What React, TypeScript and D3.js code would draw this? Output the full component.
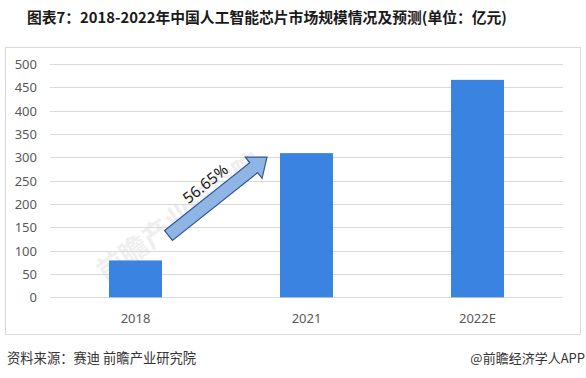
import React from "react";
import * as d3 from "d3";

const categories = ["2018", "2021", "2022E"];
const values = [79, 309, 466];
const yTicks = [0, 50, 100, 150, 200, 250, 300, 350, 400, 450, 500];
const growthLabel = "56.65%";
const title = "图表7：2018-2022年中国人工智能芯片市场规模情况及预测(单位：亿元)";
const sourceText = "资料来源：赛迪 前瞻产业研究院";
const brandText = "@前瞻经济学人APP";

const W = 586;
const H = 378;

export default function App() {
  const x = d3
    .scaleBand<string>()
    .domain(categories)
    .range([50, 563])
    .paddingInner(0.69)
    .paddingOuter(0.345);
  const y = d3.scaleLinear().domain([0, 500]).range([297.3, 64]);
  const bw = x.bandwidth();

  // arrow between first two bars
  const tail: [number, number] = [x(categories[0])! + bw + 6.5, y(values[0]) - 25];
  const tip: [number, number] = [x(categories[1])! - 13, y(values[1]) + 4];
  const dx = tip[0] - tail[0];
  const dy = tip[1] - tail[1];
  const L = Math.sqrt(dx * dx + dy * dy);
  const ang = (Math.atan2(dy, dx) * 180) / Math.PI;
  const sw = 6.3;
  const hl = 17;
  const hw = 13.5;
  const arrowPts: [number, number][] = [
    [0, -sw],
    [L - hl, -sw],
    [L - hl, -hw],
    [L, 0],
    [L - hl, hw],
    [L - hl, sw],
    [0, sw],
  ];
  const arrowPath = d3.line()(arrowPts)! + "Z";

  const axisColor = "#595959";
  const cjk = "'Noto Sans CJK SC', 'Noto Sans', sans-serif";
  const latin = "'Noto Sans', 'Liberation Sans', sans-serif";

  return (
    <svg
      width={W}
      height={H}
      viewBox={`0 0 ${W} ${H}`}
      style={{ position: "fixed", left: 0, top: 0, background: "#fff" }}
    >
      <rect x={0} y={0} width={W} height={H} fill="#fff" />
      <text
        x={27}
        y={16}
        dominantBaseline="central"
        fontFamily={cjk}
        fontWeight="bold"
        fontSize={14.8}
        fill="#1a1a1a"
      >
        {title}
      </text>

      <rect x={5.5} y={47.5} width={575} height={287} fill="none" stroke="#d9d9d9" strokeWidth={1} />

      {/* watermark */}
      <g opacity={0.06} transform="translate(185,225) rotate(-36)">
        <text x={0} y={0} textAnchor="middle" fontFamily={cjk} fontWeight="bold" fontSize={28} fill="#000">
          前瞻产业研究院
        </text>
      </g>

      {yTicks.map((t) => (
        <g key={t}>
          <line x1={50} x2={563} y1={Math.round(y(t)) + 0.5} y2={Math.round(y(t)) + 0.5} stroke="#d9d9d9" strokeWidth={1} />
          <text
            x={37}
            y={y(t)}
            textAnchor="end"
            dominantBaseline="central"
            fontFamily={latin}
            fontSize={13}
            fill={axisColor}
          >
            {t}
          </text>
        </g>
      ))}

      {categories.map((c, i) => (
        <g key={c}>
          <rect x={x(c)} y={y(values[i])} width={bw} height={y(0) - y(values[i])} fill="#3a83e0" />
          <text
            x={x(c)! + bw / 2}
            y={318}
            textAnchor="middle"
            dominantBaseline="central"
            fontFamily={latin}
            fontSize={13}
            fill={axisColor}
          >
            {c}
          </text>
        </g>
      ))}

      <g transform={`translate(${tail[0]},${tail[1]}) rotate(${ang})`}>
        <path d={arrowPath} fill="#8fb5e5" stroke="#2f5597" strokeWidth={1.2} strokeLinejoin="miter" />
        <text
          x={61}
          y={-18}
          textAnchor="middle"
          dominantBaseline="central"
          fontFamily={latin}
          fontSize={15.5}
          fill="#1a1a1a"
        >
          {growthLabel}
        </text>
      </g>

      <text x={7} y={357} dominantBaseline="central" fontFamily={cjk} fontSize={13.3} fill="#333">
        {sourceText}
      </text>
      <text x={585} y={357} textAnchor="end" dominantBaseline="central" fontFamily={cjk} fontSize={13} fill="#333">
        {brandText}
      </text>
    </svg>
  );
}
